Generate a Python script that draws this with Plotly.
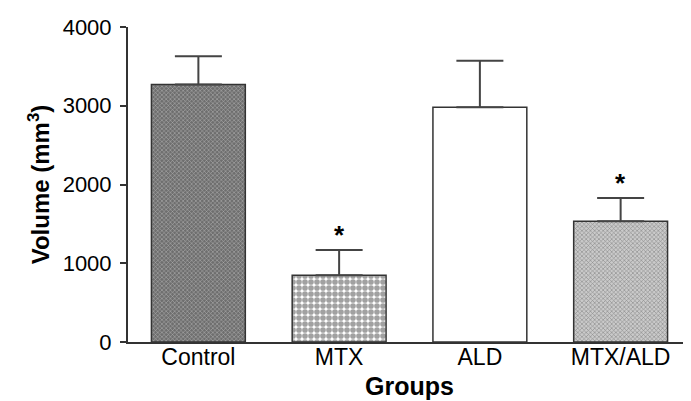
import plotly.graph_objects as go

groups = ["Control", "MTX", "ALD", "MTX/ALD"]
volume = [3270, 848, 2982, 1534]
sem = [360, 320, 590, 296]
significant = [False, True, False, True]

bg_colors = ["#6e6e6e", "#ffffff", "#ffffff", "#cacaca"]
fg_colors = ["#c4c4c4", "#000000", "#ffffff", "#8a8a8a"]
shapes = ["x", ".", "", "x"]
sizes = [3, 6, 8, 3]
solid = [0.3, 0.7, 0.3, 0.35]

fig = go.Figure()
fig.add_trace(go.Bar(
    x=groups, y=volume, width=0.667,
    marker=dict(
        color=bg_colors,
        line=dict(color="#333333", width=1.5),
        pattern=dict(shape=shapes, bgcolor=bg_colors, fgcolor=fg_colors,
                     size=sizes, solidity=solid, fillmode="overlay"),
    ),
    error_y=dict(type="data", array=sem, arrayminus=[0]*len(sem), symmetric=False,
                 color="#444444", thickness=2, width=23.5),
    showlegend=False,
))

ann = []
for g, v, e, s in zip(groups, volume, sem, significant):
    if s:
        ann.append(dict(x=g, y=v + e, text="<b>*</b>", showarrow=False,
                        yanchor="bottom", yshift=-2,
                        font=dict(size=26, color="black", family="Liberation Sans, Arial")))

fig.update_layout(
    width=691, height=401,
    margin=dict(l=120, r=8, t=19, b=67),
    paper_bgcolor="white", plot_bgcolor="white",
    font=dict(family="Liberation Sans, Arial", color="black"),
    annotations=ann,
    bargap=0.333,
)
fig.update_xaxes(
    range=[-0.5, 3.5], showline=True, linecolor="#333333", linewidth=2,
    ticks="", tickfont=dict(size=23), automargin=False, ticklabelstandoff=-7,
    title=dict(text="<b>Groups</b>", font=dict(size=25), standoff=9),
)
fig.update_yaxes(
    range=[0, 4000], tickvals=[0, 1000, 2000, 3000, 4000],
    showline=True, linecolor="#333333", linewidth=2,
    ticks="outside", ticklen=6, tickwidth=1.5, tickcolor="#333333",
    showgrid=False, zeroline=False, tickfont=dict(size=22), automargin=False,
    ticklabelstandoff=4,
    title=dict(text="<b>Volume (mm<sup>3</sup>)</b>", font=dict(size=24), standoff=6),
)
fig.write_html("out.html")
